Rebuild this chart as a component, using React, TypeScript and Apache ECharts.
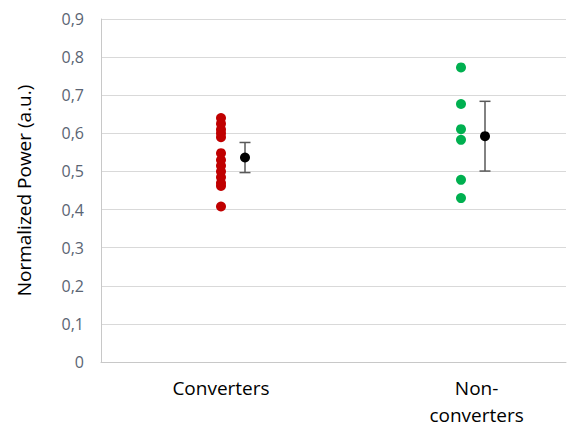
import React, { useEffect, useRef } from "react";
import * as echarts from "echarts";

const categories = ["Converters", "Non-\nconverters"];
const categoryX = [1, 2];
const labelX = [1, 2.065];
const meanOffset = 0.1;
const convertersValues = [0.64, 0.625, 0.61, 0.6, 0.59, 0.548, 0.53, 0.515, 0.5, 0.485, 0.47, 0.462, 0.408];
const nonConvertersValues = [0.773, 0.677, 0.611, 0.583, 0.478, 0.43];
const means = [0.5365, 0.5925];
const errors = [0.0395, 0.0915];
const yTicks = { min: 0, max: 0.9, interval: 0.1 };

export default function App() {
  const ref = useRef<HTMLDivElement>(null);
  useEffect(() => {
    if (!ref.current) return;
    const chart = echarts.init(ref.current, null, { renderer: "svg" });
    const font = "'Open Sans', 'Liberation Sans', sans-serif";
    const meanData = means.map((m, i) => [categoryX[i] + meanOffset, m]);
    const errData = means.map((m, i) => [categoryX[i] + meanOffset, m - errors[i], m + errors[i]]);
    chart.setOption({
      animation: false,
      grid: { left: 101, right: 1, top: 19, bottom: 61, containLabel: false },
      xAxis: {
        type: "value",
        min: 0.5,
        max: 2.4375,
        axisLine: { show: true, lineStyle: { color: "#c8c8c8", width: 1 } },
        axisTick: { show: false },
        splitLine: { show: false },
        axisLabel: {
          customValues: labelX,
          formatter: (v: number) => {
            const idx = labelX.findIndex((x) => Math.abs(x - v) < 1e-6);
            return idx >= 0 ? categories[idx] : "";
          },
          color: "#000000",
          fontFamily: font,
          fontSize: 19,
          lineHeight: 27,
          margin: 12,
          showMinLabel: true,
          showMaxLabel: true,
        },
      },
      yAxis: {
        type: "value",
        min: yTicks.min,
        max: yTicks.max,
        interval: yTicks.interval,
        name: "Normalized Power (a.u.)",
        nameLocation: "middle",
        nameRotate: 90,
        nameGap: 68,
        nameTextStyle: { color: "#000000", fontFamily: font, fontSize: 19 },
        axisLine: { show: true, lineStyle: { color: "#c8c8c8", width: 1 } },
        axisTick: { show: false },
        splitLine: { show: true, lineStyle: { color: "#d9d9d9", width: 1 } },
        axisLabel: {
          formatter: (v: number) => (v === 0 ? "0" : v.toFixed(1).replace(".", ",")),
          color: "#5a6473",
          fontFamily: font,
          fontSize: 16,
          margin: 17,
        },
      },
      series: [
        {
          type: "scatter",
          data: convertersValues.map((v) => [categoryX[0], v]),
          symbolSize: 10,
          itemStyle: { color: "#c00000", opacity: 1 },
        },
        {
          type: "scatter",
          data: nonConvertersValues.map((v) => [categoryX[1], v]),
          symbolSize: 10,
          itemStyle: { color: "#00b050", opacity: 1 },
        },
        {
          type: "custom",
          data: errData,
          renderItem: (params: any, api: any) => {
            const x = api.value(0);
            const lo = api.value(1);
            const hi = api.value(2);
            const top = api.coord([x, hi]);
            const bot = api.coord([x, lo]);
            const hw = 5.5;
            const style = { stroke: "#595959", lineWidth: 1.5 };
            return {
              type: "group",
              children: [
                { type: "line", shape: { x1: top[0], y1: top[1], x2: bot[0], y2: bot[1] }, style },
                { type: "line", shape: { x1: top[0] - hw, y1: top[1], x2: top[0] + hw, y2: top[1] }, style },
                { type: "line", shape: { x1: bot[0] - hw, y1: bot[1], x2: bot[0] + hw, y2: bot[1] }, style },
              ],
            };
          },
        },
        {
          type: "scatter",
          data: meanData,
          symbolSize: 10,
          itemStyle: { color: "#000000", opacity: 1 },
        },
      ],
    });
    return () => chart.dispose();
  }, []);
  return (
    <div
      ref={ref}
      style={{ position: "fixed", left: 0, top: 0, width: 567, height: 428, background: "#ffffff" }}
    />
  );
}
